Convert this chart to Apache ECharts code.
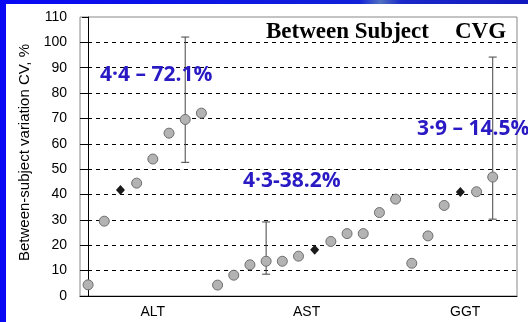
<!DOCTYPE html>
<html><head><meta charset="utf-8">
<script src="https://cdn.jsdelivr.net/npm/echarts@6/dist/echarts.min.js"></script>
<style>html,body{margin:0;padding:0;background:#fff;}#c{width:528px;height:322px;}</style>
</head><body><div id="c"></div>
<script>
// Data
const groupLabels = ['ALT', 'AST', 'GGT'];
const groupLabelPos = [4, 13.5, 23.3];
const altCV = [4.4, 29.5, 41.8, 44.5, 54, 64.2, 69.6, 72.1];
const astCV = [4.3, 8.2, 12.3, 13.7, 13.7, 15.7, 18.2, 21.5, 24.6, 24.6, 32.9, 38.2];
const ggtCV = [12.9, 23.7, 35.7, 41, 41.1, 46.9];
const meanIdx = [2, 14, 23];            // diamond markers (index in the combined sequence)
const errBars = [[6, 52.7, 102.1], [11, 8.6, 29.2], [25, 30.3, 94.2]]; // [index, low, high]
const yTicks = [0, 110, 10];
const rangeLabels = ['4·4 – 72.1%', '4·3-38.2%', '3·9 – 14.5%'];
const titleParts = ['Between Subject', 'CVG'];

const allCV = altCV.concat(astCV, ggtCV);
const circles = [], diamonds = [];
allCV.forEach((v, i) => { (meanIdx.includes(i) ? diamonds : circles).push([i, v]); });

const titleStyle = {font: 'bold 23px "Liberation Serif"', fill: '#000',
  shadowColor: 'rgba(0,0,0,0.35)', shadowOffsetX: 1.5, shadowOffsetY: 1.5, shadowBlur: 1};
const annStyle = {font: 'bold 21px "Open Sans"', fill: '#2a1ac4'};

const chart = echarts.init(document.getElementById('c'), null, {renderer: 'canvas'});
chart.setOption({
  backgroundColor: '#fff',
  animation: false,
  grid: {left: 80, right: 11, top: 17, bottom: 26, show: true, borderColor: '#888', borderWidth: 1},
  xAxis: {
    type: 'value', min: -0.5, max: 26.5,
    splitLine: {show: false},
    axisLine: {show: true, lineStyle: {color: '#000', width: 1}},
    axisTick: {show: false},
    axisLabel: {
      customValues: groupLabelPos,
      formatter: (v) => { const k = groupLabelPos.indexOf(v); return k >= 0 ? groupLabels[k] : ''; },
      color: '#000', fontFamily: 'Liberation Sans', fontSize: 14, margin: 9
    }
  },
  yAxis: {
    type: 'value', min: yTicks[0], max: yTicks[1], interval: yTicks[2],
    name: 'Between-subject variation CV, %', nameLocation: 'middle', nameGap: 47,
    nameTextStyle: {fontFamily: 'Liberation Sans', fontSize: 15, color: '#000', padding: [0, 0, 0, 8]},
    axisLine: {show: true, lineStyle: {color: '#000', width: 1}},
    axisTick: {show: true, length: 6, lineStyle: {color: '#000'}},
    axisLabel: {color: '#000', fontFamily: 'Liberation Sans', fontSize: 14, margin: 13},
    splitLine: {show: true, showMinLine: false, showMaxLine: false, lineStyle: {color: '#000', type: [4, 4], width: 1}}
  },
  graphic: [
    {type: 'rect', shape: {x: 0, y: 0, width: 6, height: 322}, style: {fill: '#0808f4'}, z: 100},
    {type: 'rect', shape: {x: 0, y: 0, width: 528, height: 4},
     style: {fill: new echarts.graphic.LinearGradient(0, 0, 1, 0, [
       {offset: 0, color: '#0808f4'}, {offset: 0.68, color: '#1020d8'}, {offset: 0.72, color: '#5070c0'},
       {offset: 0.76, color: '#1a28c8'}, {offset: 1, color: '#1018c0'}])}, z: 100},
    {type: 'text', left: 266, top: 21, z: 50, style: Object.assign({text: titleParts[0]}, titleStyle)},
    {type: 'text', left: 455, top: 21, z: 50, style: Object.assign({text: titleParts[1]}, titleStyle)},
    {type: 'text', left: 100, top: 65, z: 50, style: Object.assign({text: rangeLabels[0]}, annStyle)},
    {type: 'text', left: 243, top: 171, z: 50, style: Object.assign({text: rangeLabels[1]}, annStyle)},
    {type: 'text', left: 417, top: 119, z: 50, style: Object.assign({text: rangeLabels[2]}, annStyle)}
  ],
  series: [
    {
      type: 'custom', z: 3,
      renderItem: (params, api) => {
        const x = api.value(0);
        const lo = api.coord([x, api.value(1)]);
        const hi = api.coord([x, api.value(2)]);
        const w = 4;
        const st = {stroke: '#444', lineWidth: 1};
        return {type: 'group', children: [
          {type: 'line', shape: {x1: lo[0], y1: lo[1], x2: hi[0], y2: hi[1]}, style: st},
          {type: 'line', shape: {x1: lo[0] - w, y1: lo[1], x2: lo[0] + w, y2: lo[1]}, style: st},
          {type: 'line', shape: {x1: hi[0] - w, y1: hi[1], x2: hi[0] + w, y2: hi[1]}, style: st}
        ]};
      },
      data: errBars
    },
    {
      type: 'scatter', z: 4, symbol: 'circle', symbolSize: 10,
      itemStyle: {color: '#b3b3b3', borderColor: '#6e6e6e', borderWidth: 1, opacity: 1},
      data: circles
    },
    {
      type: 'scatter', z: 4, symbol: 'diamond', symbolSize: [9, 10],
      itemStyle: {color: '#1a1a1a', opacity: 1},
      data: diamonds
    }
  ]
});
</script></body></html>
